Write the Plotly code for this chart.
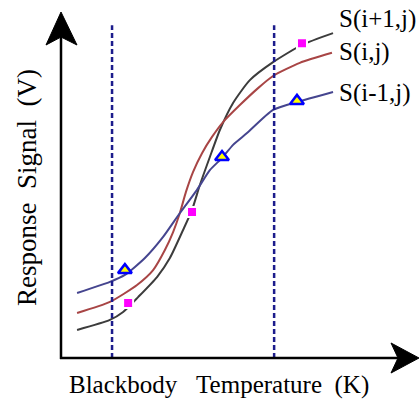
import plotly.graph_objects as go

# ---- data (arbitrary units: temperature 0-10, signal 0-10) ----
black_x = [0.45, 1.37, 1.74, 2.16, 2.69, 3.05, 3.42, 3.67, 3.89, 4.17, 4.45, 4.82, 5.29, 5.94, 6.75, 7.62]
black_y = [0.81, 1.10, 1.33, 1.76, 2.34, 2.89, 3.70, 4.28, 5.00, 5.81, 6.59, 7.37, 8.03, 8.55, 9.05, 9.39]
black_mx = [1.88, 3.67, 6.75]
black_my = [1.59, 4.22, 9.10]

red_x = [0.45, 1.37, 2.13, 2.58, 2.91, 3.14, 3.33, 3.50, 3.70, 3.95, 4.23, 4.54, 5.01, 5.52, 5.94, 6.69, 7.59]
red_y = [1.30, 1.62, 2.11, 2.54, 3.12, 3.64, 4.19, 4.80, 5.38, 5.92, 6.39, 6.82, 7.31, 7.80, 8.15, 8.53, 8.82]

blue_x = [0.45, 1.37, 1.79, 2.35, 2.86, 3.33, 3.81, 4.17, 4.51, 4.82, 5.21, 5.94, 6.61, 7.62]
blue_y = [1.88, 2.20, 2.40, 2.89, 3.50, 4.19, 4.86, 5.43, 5.78, 6.16, 6.50, 7.17, 7.40, 7.69]
blue_mx = [1.79, 4.51, 6.61]
blue_my = [2.54, 5.81, 7.43]

limit_x = [1.43, 5.97]
limit_top = 9.62

labels = ["S(i+1,j)", "S(i,j)", "S(i-1,j)"]
label_y = [9.79, 8.84, 7.66]
label_x = 7.73

x_title = "Blackbody\u00a0\u00a0\u00a0Temperature\u00a0\u00a0(K)"
y_title = "Response\u00a0\u00a0Signal\u00a0\u00a0(V)"

# ---- layout geometry ----
W, H = 420, 407
L, R, T, B = 61, 2, 12, 49
PW, PH = W - L - R, H - T - B
X0, Y0 = L, H - B  # pixel position of plot origin


def pxx(x):
    return (x - X0) / PW


def pxy(y):
    return (Y0 - y) / PH


FONT = "Liberation Serif, Times New Roman, serif"

fig = go.Figure()

fig.add_trace(go.Scatter(x=black_x, y=black_y, mode="lines",
                         line=dict(color="#3c3c3c", width=2, shape="spline", smoothing=0.6)))
fig.add_trace(go.Scatter(x=red_x, y=red_y, mode="lines",
                         line=dict(color="#a84545", width=2, shape="spline", smoothing=0.6)))
fig.add_trace(go.Scatter(x=blue_x, y=blue_y, mode="lines",
                         line=dict(color="#45458f", width=2, shape="spline", smoothing=0.6)))

for lx in limit_x:
    fig.add_trace(go.Scatter(x=[lx, lx], y=[0, limit_top], mode="lines",
                             line=dict(color="#1c1c8c", width=2.5, dash="5px,3px")))

fig.add_trace(go.Scatter(x=black_mx, y=black_my, mode="markers",
                         marker=dict(symbol="square", size=10, color="#ff00ff",
                                     line=dict(color="white", width=2))))
fig.add_trace(go.Scatter(x=blue_mx, y=blue_my, mode="markers",
                         marker=dict(symbol="triangle-up", size=12, color="#ffff00",
                                     line=dict(color="#0000ff", width=2.5))))

# axes with arrowheads
shapes = [
    dict(type="line", xref="paper", yref="paper", x0=pxx(61), y0=pxy(359), x1=pxx(61), y1=pxy(36),
         line=dict(color="black", width=2.5)),
    dict(type="line", xref="paper", yref="paper", x0=pxx(60), y0=pxy(358), x1=pxx(400), y1=pxy(358),
         line=dict(color="black", width=2.5)),
]
yhead = [(61, 12), (46, 45), (61, 37), (77, 45)]
xhead = [(419, 358), (391, 343), (398, 358), (391, 373)]
for head in (yhead, xhead):
    path = "M " + " L ".join(f"{pxx(a):.4f},{pxy(b):.4f}" for a, b in head) + " Z"
    shapes.append(dict(type="path", xref="paper", yref="paper", path=path,
                       fillcolor="black", line=dict(color="black", width=1)))

annotations = []
for txt, ly in zip(labels, label_y):
    annotations.append(dict(x=label_x, y=ly, xref="x", yref="y", text=txt, showarrow=False,
                            xanchor="left", yanchor="middle",
                            font=dict(family=FONT, size=25, color="black")))
annotations.append(dict(x=pxx(219), y=pxy(385), xref="paper", yref="paper", text=x_title,
                        showarrow=False, xanchor="center", yanchor="middle",
                        font=dict(family=FONT, size=25, color="black")))
annotations.append(dict(x=pxx(27), y=pxy(188), xref="paper", yref="paper", text=y_title,
                        showarrow=False, xanchor="center", yanchor="middle", textangle=-90,
                        font=dict(family=FONT, size=27, color="black")))

fig.update_layout(
    width=W, height=H,
    margin=dict(l=L, r=R, t=T, b=B),
    paper_bgcolor="white", plot_bgcolor="white",
    showlegend=False,
    xaxis=dict(range=[0, 10], visible=False, fixedrange=True),
    yaxis=dict(range=[0, 10], visible=False, fixedrange=True),
    shapes=shapes, annotations=annotations,
)

fig.write_html(
    "out.html",
    config={"displayModeBar": False},
    post_script="document.body.style.margin='0px';document.body.style.overflow='hidden';",
)
